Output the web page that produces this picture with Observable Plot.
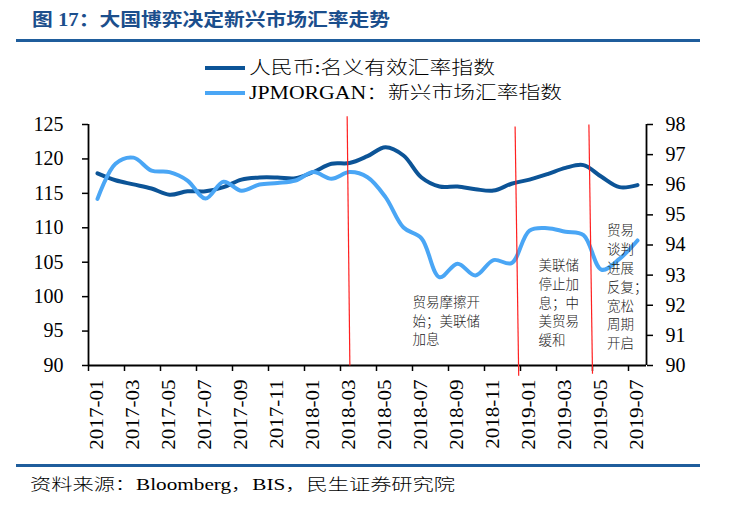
<!DOCTYPE html>
<html>
<head>
<meta charset="utf-8">
<script src="https://cdn.jsdelivr.net/npm/d3@7"></script>
<script src="https://cdn.jsdelivr.net/npm/@observablehq/plot@0.6"></script>
<style>
  html, body { margin: 0; padding: 0; background: #fff; }
  #wrap { position: relative; width: 732px; height: 510px; background: #fff; overflow: hidden; }
  .abs { position: absolute; white-space: nowrap; }
  .fit { display: inline-block; transform-origin: left center; }
  #title { left: 32px; top: 11px; font: bold 18px/18px "Liberation Serif", "Noto Sans CJK SC", serif; color: #1b4e8c; }
  .rule { position: absolute; left: 16px; width: 684px; height: 3px; background: #1f5d9c; }
  .leg { left: 249px; font: 300 18px/18px "Liberation Serif", "Noto Sans CJK SC", serif; color: #000; }
  .sw { position: absolute; left: 205px; width: 40px; height: 4px; }
  #source { left: 30px; top: 477px; font: 300 16px/16px "Liberation Serif", "Noto Sans CJK SC", serif; color: #000; }
  #chart { position: absolute; left: 0; top: 100px; }
</style>
</head>
<body>
<div id="wrap">
  <div id="title" class="abs"><span class="fit" data-w="358">图 17：大国博弈决定新兴市场汇率走势</span></div>
  <div class="rule" style="top:38.5px"></div>
  <div class="sw" style="top:66.3px;background:#0c5497"></div>
  <div class="abs leg" style="top:59.3px"><span class="fit" data-w="246" id="leg1"></span></div>
  <div class="sw" style="top:90.7px;background:#4aa6f5"></div>
  <div class="abs leg" style="top:83.7px"><span class="fit" data-w="313" id="leg2"></span></div>
  <div id="chart"></div>
  <div class="rule" style="top:463.5px"></div>
  <div id="source" class="abs"><span class="fit" data-w="425">资料来源：Bloomberg，BIS，民生证券研究院</span></div>
</div>
<script>
// ---- data ----
const months = ["2017-01","2017-02","2017-03","2017-04","2017-05","2017-06","2017-07","2017-08","2017-09","2017-10","2017-11","2017-12",
                "2018-01","2018-02","2018-03","2018-04","2018-05","2018-06","2018-07","2018-08","2018-09","2018-10","2018-11","2018-12",
                "2019-01","2019-02","2019-03","2019-04","2019-05","2019-06","2019-07"];
const seriesNames = ["人民币:名义有效汇率指数", "JPMORGAN：新兴市场汇率指数"];
// left axis
const cnyNeer = [117.9,116.9,116.3,115.7,114.8,115.3,115.3,115.9,117.0,117.3,117.3,117.2,
                 118.1,119.3,119.4,120.4,121.7,120.5,117.3,116.0,116.0,115.6,115.4,116.4,
                 117.0,117.8,118.7,119.1,117.4,115.9,116.2];
// right axis
const jpmEm = [95.53,96.70,96.90,96.47,96.42,96.14,95.54,96.10,95.80,96.01,96.06,96.14,
               96.42,96.20,96.42,96.25,95.59,94.58,94.22,92.93,93.38,92.99,93.50,93.40,
               94.48,94.56,94.44,94.33,93.18,93.54,94.15];
const leftTicks = [90,95,100,105,110,115,120,125];
const rightTicks = [90,91,92,93,94,95,96,97,98];
// event markers (month index, left-axis value)
const eventLines = [
  {from: 13.87, to: 14.02, top: 126.2, bottom: 90.0},
  {from: 23.2, to: 23.4, top: 124.7, bottom: 88.5},
  {from: 27.3, to: 27.5, top: 125.0, bottom: 88.8}
];
const notes = [
  {at: 17.5, value: 100.5, text: "贸易摩擦开\n始；美联储\n加息"},
  {at: 24.5, value: 105.85, text: "美联储\n停止加\n息；中\n美贸易\n缓和"},
  {at: 28.3, value: 110.9, text: "贸易\n谈判\n进展\n反复；\n宽松\n周期\n开启"}
];

document.getElementById("leg1").textContent = seriesNames[0];
document.getElementById("leg2").textContent = seriesNames[1];

const toLeft = v => 90 + (v - 90) * 35 / 8;
const fromLeft = y => 90 + (y - 90) * 8 / 35;
const cnyData = cnyNeer.map((v, i) => ({i, v}));
const jpmData = jpmEm.map((v, i) => ({i, v: toLeft(v)}));
const labelIdx = months.map((m, i) => i).filter(i => i % 2 === 0);
const boundaries = labelIdx.map(i => i - 0.5);

const chart = Plot.plot({
  width: 732, height: 360,
  marginLeft: 88, marginRight: 86, marginTop: 24, marginBottom: 95,
  x: {type: "linear", domain: [-0.5, 30.5], axis: null, label: null},
  y: {domain: [90, 125], axis: null, label: null},
  style: {fontFamily: "'Liberation Serif', serif", fontSize: "20px", color: "#000", background: "#fff", overflow: "visible"},
  marks: [
    Plot.axisY({anchor: "left", ticks: leftTicks, tickSize: 6, tickPadding: 19, fontSize: 20, label: null, strokeWidth: 1.5}),
    Plot.axisY({anchor: "right", ticks: rightTicks.map(toLeft), tickFormat: v => Math.round(fromLeft(v)), tickSize: 6, tickPadding: 13, fontSize: 20, label: null, strokeWidth: 1.5}),
    Plot.axisX({ticks: boundaries, tickSize: 6, tickFormat: () => "", label: null, strokeWidth: 1.5}),
    Plot.axisX({ticks: labelIdx, tickFormat: i => months[i], tickSize: 0, tickPadding: 14, tickRotate: -90, fontSize: 18, label: null}),
    Plot.ruleX([-0.5, 30.5], {stroke: "#000", strokeWidth: 1.8}),
    Plot.ruleY([90], {stroke: "#000", strokeWidth: 1.8}),
    Plot.line(cnyData, {x: "i", y: "v", stroke: "#0c5497", strokeWidth: 4, curve: "catmull-rom"}),
    Plot.line(jpmData, {x: "i", y: "v", stroke: "#4aa6f5", strokeWidth: 4, curve: "catmull-rom"}),
    Plot.link(eventLines, {x1: "from", y1: "top", x2: "to", y2: "bottom", stroke: "#ff2020", strokeWidth: 1.2}),
    Plot.text(notes, {x: "at", y: "value", text: "text", textAnchor: "start", lineAnchor: "top", lineHeight: 1.4,
      fontSize: 13.5, fontWeight: 300, fontFamily: "'Noto Sans CJK SC', sans-serif", fill: "#222"})
  ]
});
document.getElementById("chart").appendChild(chart);

// stretch rotated month labels along their length
d3.select(chart).selectAll("text").each(function() {
  if (/^\d{4}-\d{2}$/.test(this.textContent)) {
    const t = this.getAttribute("transform") || "";
    this.setAttribute("transform", t + " scale(1.17,1)");
  }
});

// fit HTML texts to measured widths
document.querySelectorAll(".fit").forEach(el => {
  const w = el.getBoundingClientRect().width;
  const target = +el.dataset.w;
  if (w > 0) el.style.transform = `scaleX(${target / w})`;
});
</script>
</body>
</html>
